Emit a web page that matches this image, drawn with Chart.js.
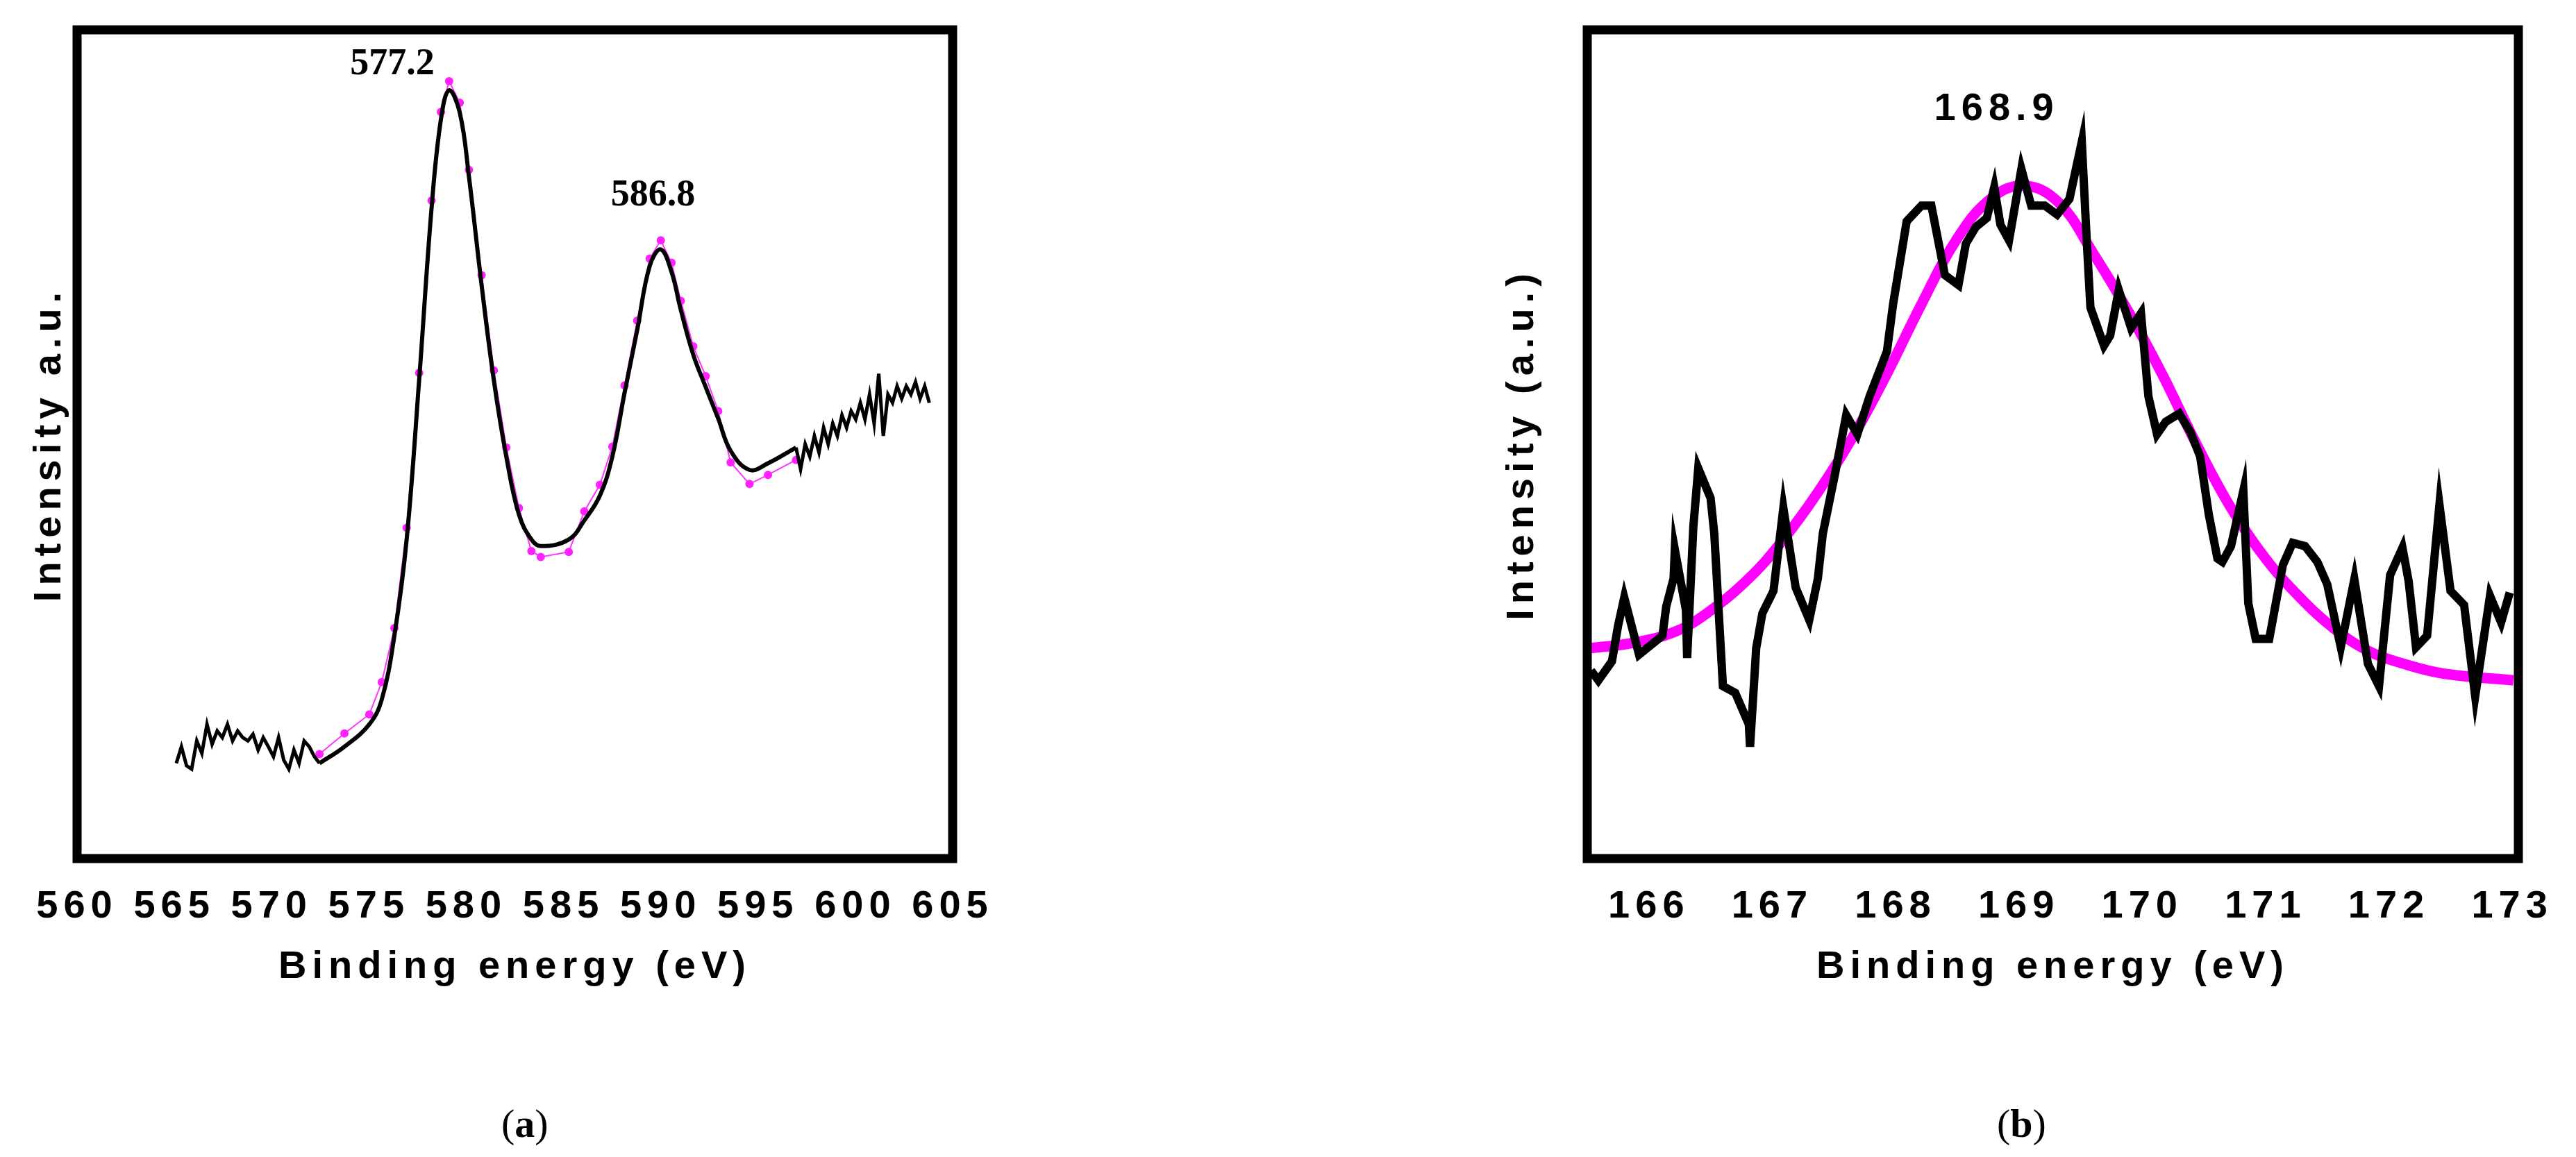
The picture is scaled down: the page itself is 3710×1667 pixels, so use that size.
<!DOCTYPE html>
<html>
<head>
<meta charset="utf-8">
<script src="https://cdn.jsdelivr.net/npm/chart.js@4.4.1/dist/chart.umd.min.js"></script>
<style>
  body { margin: 0; background: #fff; width: 3710px; height: 1667px; position: relative; overflow: hidden; }
  canvas { position: absolute; }
  .cap { position: absolute; top: 1585px; font-family: "Liberation Serif", serif; font-size: 58px; }
</style>
</head>
<body>
<canvas id="chartA" style="left:0;top:0"></canvas>
<canvas id="chartB" style="left:2100px;top:0"></canvas>
<div class="cap" style="left:722px">(<b>a</b>)</div>
<div class="cap" style="left:2876px">(<b>b</b>)</div>
<script>
// ---- panel (a) ----
let ticksA = [560, 565, 570, 575, 580, 585, 590, 595, 600, 605];
let lowNoiseY = [11.5, 13.5, 11.2, 10.8, 14.2, 12.7, 16.2, 13.8, 15.4, 14.6, 16.2, 14.2, 15.4, 14.6, 14.2, 15, 13.1, 14.6, 13.5, 12.3, 14.6, 11.9, 10.8, 13.1, 11.5, 14.2, 13.5, 12.3, 11.5];
let fitX = [572.46, 573.74, 575.02, 575.66, 576.31, 576.94, 577.58, 578.22, 578.70, 579.12, 579.67, 580.14, 580.79, 581.42, 582.06, 582.71, 583.35, 583.83, 585.27, 586.07, 586.87, 587.51, 588.14, 588.79, 589.43, 590.0, 590.55, 591.03, 591.67, 592.31, 592.95, 593.59, 594.56, 595.51, 596.95];
let fitY = [11.5, 13.5, 16.2, 19.2, 26.9, 38.5, 57.7, 78.5, 89.2, 92.7, 90, 82.3, 69.2, 57.7, 48.5, 41.5, 38.5, 37.7, 38.5, 40.8, 43.8, 48.5, 56.2, 63.8, 71.5, 73.5, 70.8, 66.2, 60.8, 56.9, 53.1, 49.2, 46.9, 47.7, 49.6];
let rawY = [12.6, 15.1, 17.4, 21.3, 27.8, 39.9, 58.6, 79.4, 90.1, 93.8, 91.2, 83.1, 70.4, 58.9, 49.6, 42.3, 37.1, 36.4, 37.0, 41.9, 45.1, 49.7, 57.1, 64.9, 72.4, 74.6, 71.9, 67.3, 61.8, 58.2, 54.0, 47.8, 45.2, 46.3, 48.1];
let highNoiseY = [49.6, 47, 50, 48.5, 51, 49, 52, 50, 52.5, 51, 53.5, 52, 54, 53, 55, 53, 56, 52.5, 58.5, 51, 56, 55, 57, 55.5, 57, 56, 57.5, 55.5, 57, 55];

// ---- panel (b) ----
let ticksB = [166, 167, 168, 169, 170, 171, 172, 173];
let gaussX = [165.53, 165.86, 166.2, 166.47, 166.81, 167.09, 167.37, 167.65, 167.93, 168.21, 168.49, 168.77, 169.04, 169.32, 169.6, 169.88, 170.16, 170.44, 170.72, 171.0, 171.28, 171.56, 171.84, 172.12, 172.45, 173.01];
let gaussY = [25.4, 26, 27.3, 29.6, 33.8, 38.5, 44.2, 50.8, 58.5, 66.9, 74.6, 79.6, 81.2, 79.2, 73.1, 66.2, 58.5, 50, 42.3, 36.2, 31.5, 27.7, 25, 23.5, 22.3, 21.5];
let sX = [165.53, 165.59, 165.70, 165.75, 165.80, 165.92, 166.11, 166.14, 166.20, 166.21, 166.30, 166.31, 166.36, 166.40, 166.50, 166.53, 166.60, 166.70, 166.81, 166.82, 166.87, 166.92, 167.01, 167.09, 167.19, 167.30, 167.37, 167.41, 167.51, 167.60, 167.69, 167.79, 167.93, 167.98, 168.09, 168.21, 168.29, 168.40, 168.51, 168.57, 168.65, 168.74, 168.80, 168.85, 168.92, 169.02, 169.10, 169.21, 169.31, 169.41, 169.51, 169.55, 169.58, 169.69, 169.74, 169.81, 169.91, 169.99, 170.05, 170.12, 170.19, 170.30, 170.39, 170.47, 170.54, 170.61, 170.65, 170.72, 170.82, 170.86, 170.92, 171.03, 171.14, 171.22, 171.32, 171.42, 171.50, 171.61, 171.72, 171.83, 171.92, 172.01, 172.11, 172.16, 172.22, 172.31, 172.41, 172.50, 172.61, 172.70, 172.82, 172.91, 172.98];
let sY = [22.7, 21.5, 23.8, 28.1, 31.5, 24.6, 26.9, 30.4, 33.8, 37.3, 30, 24.2, 40, 47.1, 43.5, 39.2, 20.8, 20, 16.2, 13.5, 25.4, 29.6, 32.3, 42.3, 32.7, 28.8, 33.8, 39.2, 46.5, 53.5, 51.2, 55.8, 61.2, 66.9, 76.9, 78.8, 78.8, 70.4, 69.2, 74.2, 76.2, 77.3, 81, 76.5, 74.6, 83.2, 78.8, 78.8, 77.7, 79.6, 86.5, 74.6, 66.5, 61.9, 63.1, 68.6, 64, 65.8, 55.8, 51.2, 52.7, 53.7, 51.5, 48.5, 41.5, 36.2, 35.8, 37.7, 44.4, 30.8, 26.5, 26.5, 35.4, 38.1, 37.7, 35.8, 33.1, 25.5, 33.7, 23.5, 20.8, 34.2, 37.5, 33.5, 25.5, 26.9, 42.7, 32.3, 30.6, 19.6, 31.7, 28.5, 32.1];

function pts(xs, ys) { return xs.map((x, i) => ({ x: x, y: ys[i] })); }
function spread(x0, x1, ys) { return ys.map((y, i) => ({ x: x0 + (x1 - x0) * i / (ys.length - 1), y: y })); }

let tickFont = { family: "'Liberation Sans', sans-serif", size: 56, weight: "bold" };

let framePlugin = {
  id: "frame",
  beforeDraw(chart) { chart.ctx.letterSpacing = "8px"; },
  afterDraw(chart) {
    let a = chart.chartArea, ctx = chart.ctx;
    ctx.save();
    ctx.letterSpacing = "0px";
    ctx.lineWidth = 13;
    ctx.strokeStyle = "#000";
    ctx.strokeRect(a.left, a.top, a.right - a.left, a.bottom - a.top);
    let lab = chart.options.plugins.frame.labels;
    ctx.fillStyle = "#000";
    ctx.textAlign = "center";
    ctx.textBaseline = "middle";
    lab.forEach(l => {
      ctx.font = l.font;
      ctx.letterSpacing = l.spacing || "0px";
      ctx.fillText(l.text, chart.scales.x.getPixelForValue(l.x), chart.scales.y.getPixelForValue(l.y));
    });
    ctx.restore();
  }
};

function makeChart(id, w, h, datasets, xr, tickList, yTitle, pad, yw, labels) {
  let c = document.getElementById(id);
  c.width = w; c.height = h;
  c.style.width = w + "px"; c.style.height = h + "px";
  return new Chart(c.getContext("2d"), {
    type: "scatter",
    data: { datasets: datasets },
    plugins: [framePlugin],
    options: {
      responsive: false,
      animation: false,
      devicePixelRatio: 1,
      layout: { padding: pad },
      plugins: { legend: { display: false }, tooltip: { enabled: false }, frame: { labels: labels } },
      scales: {
        x: {
          type: "linear", min: xr[0], max: xr[1],
          afterBuildTicks: s => { s.ticks = tickList.map(v => ({ value: v })); },
          grid: { display: false, drawTicks: false }, border: { display: false },
          ticks: { color: "#000", font: tickFont, padding: 36, maxRotation: 0 },
          title: { display: true, text: "Binding energy (eV)", color: "#000", font: tickFont, padding: 0 },
          afterFit: s => { s.height = 190; }
        },
        y: {
          min: 0, max: 100,
          grid: { display: false, drawTicks: false }, border: { display: false },
          ticks: { display: false },
          title: { display: true, text: yTitle, color: "#000", font: tickFont, padding: 0 },
          afterFit: s => { s.width = yw; }
        }
      }
    }
  });
}

makeChart("chartA", 1800, 1500, [
  { data: pts(fitX, fitY), showLine: true, borderColor: "#000", borderWidth: 6, pointRadius: 0, tension: 0.4, order: 1 },
  { data: spread(565.1, 572.46, lowNoiseY), showLine: true, borderColor: "#000", borderWidth: 5, pointRadius: 0, order: 1 },
  { data: spread(596.95, 603.8, highNoiseY), showLine: true, borderColor: "#000", borderWidth: 5, pointRadius: 0, order: 1 },
  { data: pts(fitX, rawY), showLine: true, borderColor: "#ff33ff", borderWidth: 2, pointRadius: 6, pointBackgroundColor: "#ff22ff", pointBorderWidth: 0, order: 2 }
], [560, 605], ticksA, "Intensity a.u.", { left: 38, top: 43, right: 428, bottom: 73 }, 73, [
  { text: "577.2", x: 576.2, y: 95.8, font: "bold 54px 'Liberation Serif'" },
  { text: "586.8", x: 589.6, y: 80, font: "bold 54px 'Liberation Serif'" }
]);

makeChart("chartB", 1610, 1500, [
  { data: pts(sX, sY), showLine: true, borderColor: "#000", borderWidth: 12, pointRadius: 0, borderJoinStyle: "miter", order: 1 },
  { data: pts(gaussX, gaussY), showLine: true, borderColor: "#ff00ff", borderWidth: 15, pointRadius: 0, tension: 0.4, order: 2 }
], [165.5, 173.05], ticksB, "Intensity (a.u.)", { left: 59, top: 43, right: 83, bottom: 73 }, 127, [
  { text: "168.9", x: 168.82, y: 90.4, font: "bold 56px 'Liberation Sans'", spacing: "8px" }
]);
</script>
</body>
</html>
